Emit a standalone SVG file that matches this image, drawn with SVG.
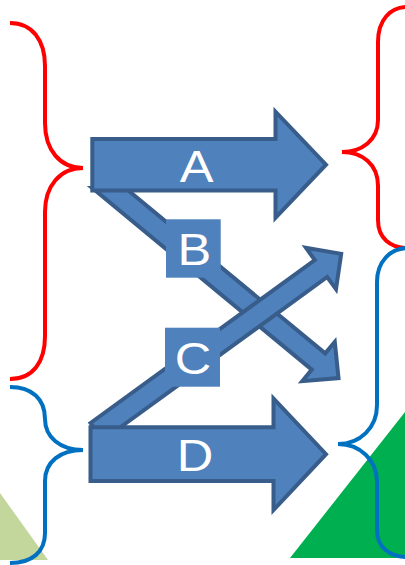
<svg xmlns="http://www.w3.org/2000/svg" width="405" height="565" viewBox="0 0 405 565">
  <style>
    .brace { fill: none; stroke-width: 4; stroke-linecap: butt; }
    .red { stroke: #ff0000; }
    .blue { stroke: #0070c0; }
    .arrow { fill: #4f81bd; stroke: #385d8a; stroke-width: 4; stroke-linejoin: miter; }
    .tag { fill: #4f81bd; }
    .label { font-family: "Liberation Sans", Arial, sans-serif; font-size: 44px; fill: #ffffff; text-anchor: middle; }
  </style>

  <!-- background triangles -->
  <g id="triangles">
    <polygon points="0,493 48,560 0,560" fill="#c3d69b"/>
    <polygon points="405,412 290,558 405,558" fill="#00b050"/>
  </g>

  <!-- curly braces -->
  <g id="braces">
    <path class="brace red" d="M10,23 C32,23 45,40 45,66 V123 C45,150 60,168 83,168 C60,168 45,186 45,212 V336 C45,362 33,379 10,379"/>
    <path class="brace blue" d="M10,387 C32,387 45,399 45,419 C45,437 60,450 83,450 C60,450 45,462 45,481 V533 C45,552 32,563 10,563"/>
    <path class="brace red" d="M408,7 C390,7 378,20 378,42 V120 C378,140 362,152 342,152 C362,152 378,164 378,186 V220 C378,238 390,248 408,248"/>
    <path class="brace blue" d="M408,248 C390,248 377,262 377,282 V405 C377,428 360,444 338,444 C360,444 377,460 377,482 V530 C377,548 390,557 408,557"/>
  </g>

  <!-- block arrows -->
  <g id="connectors">
    <g id="arrow-B">
      <polygon class="arrow" points="92.3,188 125.3,188 325.2,353.4 334.8,341.9 338.5,378.1 302.3,381.2 311.8,369.6"/>
    </g>
    <g id="arrow-C">
      <polygon class="arrow" points="90.5,423 314.8,260 306,247.9 341.2,253.8 336,289.1 327.2,277 102.8,440"/>
    </g>
    <g id="arrow-A">
      <path class="arrow" d="M92.3,139 H275.5 V111.7 L326,164.7 L275.5,217.7 V190.5 H92.3 Z"/>
    </g>
    <g id="arrow-D">
      <path class="arrow" d="M90.5,427.3 H273.5 V398.5 L326,454.2 L273.5,510 V481 H90.5 Z"/>
    </g>
  </g>

  <!-- labels -->
  <g id="node-A">
    <text class="label" transform="translate(196.7,181.7) scale(1.15,1)">A</text>
  </g>
  <g id="node-B">
    <rect class="tag" x="166" y="219.3" width="54.7" height="58.4"/>
    <text class="label" transform="translate(194.3,265) scale(1.15,1)">B</text>
  </g>
  <g id="node-C">
    <rect class="tag" x="165" y="327.7" width="55" height="59"/>
    <text class="label" transform="translate(193,373.8) scale(1.15,1)">C</text>
  </g>
  <g id="node-D">
    <text class="label" transform="translate(195,471) scale(1.15,1)">D</text>
  </g>
</svg>
